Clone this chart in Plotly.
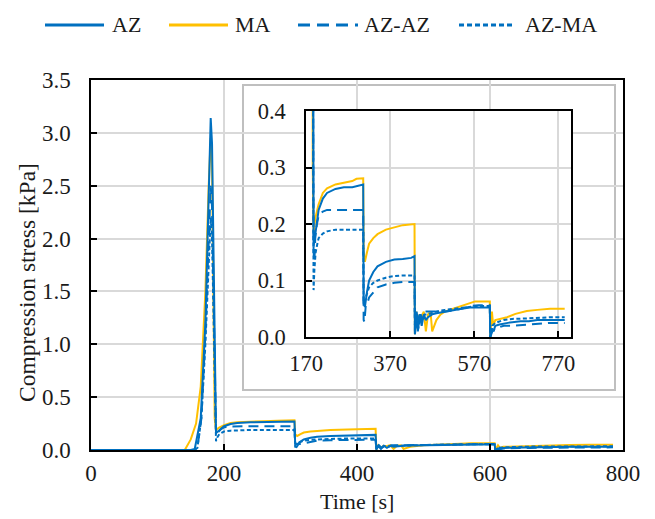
import plotly.graph_objects as go

# ---- data ----
t_az = [0, 150, 156, 165, 172, 177, 180, 182, 185, 188, 190, 195, 200, 210, 220, 240, 260, 280, 300, 306,
        307, 310, 315, 320, 330, 340, 360, 380, 400, 420, 428,
        429, 432, 436, 440, 445, 450, 455, 460, 470, 480, 500, 520, 540, 560, 580, 600, 607,
        608, 612, 616, 620, 630, 650, 680, 700, 720, 750, 785]
v_az = [0, 0, 0.01, 0.3, 1.2, 2.4, 3.14, 2.9, 1.5, 0.16, 0.17, 0.2, 0.225, 0.245, 0.255, 0.262, 0.265, 0.265, 0.268, 0.27,
        0.06, 0.053, 0.08, 0.1, 0.115, 0.125, 0.133, 0.137, 0.138, 0.14, 0.143,
        0.005, 0.04, 0.01, 0.04, 0.02, 0.04, 0.03, 0.035, 0.04, 0.042, 0.045, 0.048, 0.05, 0.052, 0.052, 0.052, 0.052,
        0.0, 0.015, 0.01, 0.02, 0.022, 0.025, 0.028, 0.028, 0.03, 0.03, 0.03]

t_ma = [0, 141, 150, 158, 165, 172, 177, 180, 182, 184, 186, 188, 192, 200, 210, 220, 240, 260, 280, 290, 306,
        307, 310, 315, 320, 330, 340, 360, 386, 400, 428,
        429, 432, 436, 440, 444, 450, 455, 460, 466, 470, 480, 490, 500, 520, 544, 560, 572, 607,
        608, 612, 615, 620, 630, 648, 668, 695, 720, 750, 785]
v_ma = [0, 0, 0.1, 0.25, 0.6, 1.5, 2.5, 2.95, 2.7, 1.2, 0.3, 0.186, 0.21, 0.235, 0.255, 0.263, 0.27, 0.273, 0.276, 0.28, 0.281,
        0.15, 0.133, 0.15, 0.165, 0.175, 0.182, 0.19, 0.195, 0.198, 0.2,
        0.005, 0.045, 0.02, 0.04, 0.035, 0.045, 0.01, 0.04, 0.045, 0.01, 0.03, 0.04, 0.045, 0.05, 0.056, 0.06, 0.063, 0.063,
        0.0, 0.045, 0.02, 0.03, 0.032, 0.035, 0.041, 0.046, 0.048, 0.05, 0.05]

t_azaz = [0, 155, 160, 166, 172, 177, 180, 182, 185, 188, 190, 192, 196, 200, 210, 220, 240, 260, 280, 306,
          307, 309, 312, 316, 320, 330, 340, 360, 380, 400, 428,
          429, 433, 437, 441, 446, 452, 460, 480, 500, 520, 540, 560, 580, 607,
          608, 613, 620, 640, 660, 700, 750, 785]
v_azaz = [0, 0, 0.02, 0.3, 1.1, 2.0, 2.5, 2.3, 1.0, 0.15, 0.135, 0.175, 0.2, 0.215, 0.222, 0.225, 0.225, 0.225, 0.225, 0.225,
          0.03, 0.027, 0.055, 0.06, 0.07, 0.08, 0.088, 0.093, 0.096, 0.0975, 0.0975,
          0.005, 0.045, 0.02, 0.045, 0.03, 0.045, 0.045, 0.045, 0.045, 0.047, 0.05, 0.055, 0.056, 0.056,
          0.0, 0.01, 0.015, 0.02, 0.02, 0.022, 0.025, 0.025]

t_azma = [0, 155, 160, 166, 172, 177, 180, 182, 185, 188, 190, 193, 197, 200, 210, 220, 240, 260, 280, 306,
          307, 309, 312, 316, 320, 330, 340, 360, 380, 400, 428,
          429, 433, 437, 441, 446, 452, 460, 480, 500, 520, 540, 560, 580, 607,
          608, 613, 620, 640, 660, 700, 750, 785]
v_azma = [0, 0, 0.02, 0.3, 1.0, 1.8, 2.2, 2.0, 0.9, 0.083, 0.12, 0.15, 0.165, 0.175, 0.183, 0.187, 0.19, 0.19, 0.19, 0.19,
          0.065, 0.06, 0.07, 0.08, 0.088, 0.096, 0.1, 0.105, 0.108, 0.109, 0.109,
          0.005, 0.04, 0.015, 0.04, 0.03, 0.04, 0.04, 0.045, 0.048, 0.05, 0.052, 0.054, 0.055, 0.055,
          0.0, 0.02, 0.025, 0.03, 0.032, 0.033, 0.035, 0.035]

series_names = ["AZ", "MA", "AZ-AZ", "AZ-MA"]
main_ticks = [0, 200, 400, 600, 800]
inset_ticks = [170, 370, 570, 770]

BLUE = "#0070C0"
GOLD = "#FFC000"
dashes = {"AZ": "solid", "MA": "solid", "AZ-AZ": "10px,6px", "AZ-MA": "4px,2.5px"}
legend_dashes = {"AZ": "solid", "MA": "solid", "AZ-AZ": "12px,7px", "AZ-MA": "5px,3px"}
colors = {"AZ": BLUE, "MA": GOLD, "AZ-AZ": BLUE, "AZ-MA": BLUE}
data = {"AZ": (t_az, v_az), "MA": (t_ma, v_ma), "AZ-AZ": (t_azaz, v_azaz), "AZ-MA": (t_azma, v_azma)}
draw_order = ["MA", "AZ", "AZ-AZ", "AZ-MA"]

FONT = "Liberation Serif, Times New Roman, serif"
TXT = "#1a1a1a"
fig = go.Figure()

for ax, ay in (("x", "y"), ("x2", "y2")):
    for name in draw_order:
        t, v = data[name]
        fig.add_trace(go.Scatter(x=t, y=v, mode="lines", name=name,
                                 line=dict(color=colors[name], width=2, dash=dashes[name]),
                                 xaxis=ax, yaxis=ay, showlegend=False))

# The page body has an 8px margin, so the figure is offset by (8, 8) inside the window.
# Plot area in window pixels: left 91, top 80, 532 x 370.
def px_x(p):
    return (p - 91) / 532.0

def px_y(p):
    return (450 - p) / 370.0

leg_y = px_y(25)
leg_lines = {"AZ": (45, 104), "MA": (169, 228), "AZ-AZ": (298, 358), "AZ-MA": (459, 513)}
leg_text_x = {"AZ": 110, "MA": 233, "AZ-AZ": 362, "AZ-MA": 523}

shapes = [dict(type="rect", xref="paper", yref="paper", x0=px_x(243), x1=px_x(615), y0=px_y(390), y1=px_y(85),
               fillcolor="white", line=dict(color="#bfbfbf", width=2), layer="between")]
annotations = []
for name in series_names:
    a, b = leg_lines[name]
    shapes.append(dict(type="line", xref="paper", yref="paper", x0=px_x(a), x1=px_x(b), y0=leg_y, y1=leg_y,
                       line=dict(color=colors[name], width=3, dash=legend_dashes[name])))
    annotations.append(dict(text=name, xref="paper", yref="paper", x=px_x(leg_text_x[name]), y=leg_y,
                            xanchor="left", yanchor="middle", showarrow=False,
                            font=dict(size=22, family=FONT, color=TXT)))

annotations.append(dict(text="Compression stress [kPa]", xref="paper", yref="paper", x=px_x(27), y=px_y(283),
                        textangle=-90, showarrow=False, font=dict(size=23.5, family=FONT, color=TXT),
                        xanchor="center", yanchor="middle"))
annotations.append(dict(text="Time [s]", xref="paper", yref="paper", x=0.5, y=px_y(502),
                        showarrow=False, font=dict(size=22, family=FONT, color=TXT),
                        xanchor="center", yanchor="middle"))

grid = "#d9d9d9"
common = dict(showgrid=True, gridcolor=grid, gridwidth=1.5, showline=True, linecolor="black", linewidth=1.5,
              mirror=True, ticks="inside", ticklen=6, tickcolor="black", tickwidth=1.5, zeroline=False,
              automargin=False)
fig.update_layout(
    width=647, height=511,
    margin=dict(l=83, r=32, t=72, b=69),
    paper_bgcolor="white", plot_bgcolor="white",
    font=dict(family=FONT, size=22, color=TXT),
    showlegend=False,
    xaxis=dict(domain=[0, 1], range=[0, 800], tickvals=main_ticks, ticklabelstandoff=2,
               tickfont=dict(size=23, family=FONT, color=TXT), **common),
    yaxis=dict(domain=[0, 1], range=[0, 3.5], dtick=0.5, tickformat=".1f", ticklabelstandoff=14,
               tickfont=dict(size=23, family=FONT, color=TXT), **common),
    xaxis2=dict(domain=[px_x(306), px_x(571)], range=[170, 800], tickvals=inset_ticks, anchor="y2",
                ticklabelstandoff=5, tickfont=dict(size=22.5, family=FONT, color=TXT), **common),
    yaxis2=dict(domain=[px_y(337), px_y(111)], range=[0, 0.4], dtick=0.1, tickformat=".1f", anchor="x2",
                ticklabelstandoff=14, tickfont=dict(size=22.5, family=FONT, color=TXT), **common),
    shapes=shapes,
    annotations=annotations,
)

fig.write_html("out.html")
